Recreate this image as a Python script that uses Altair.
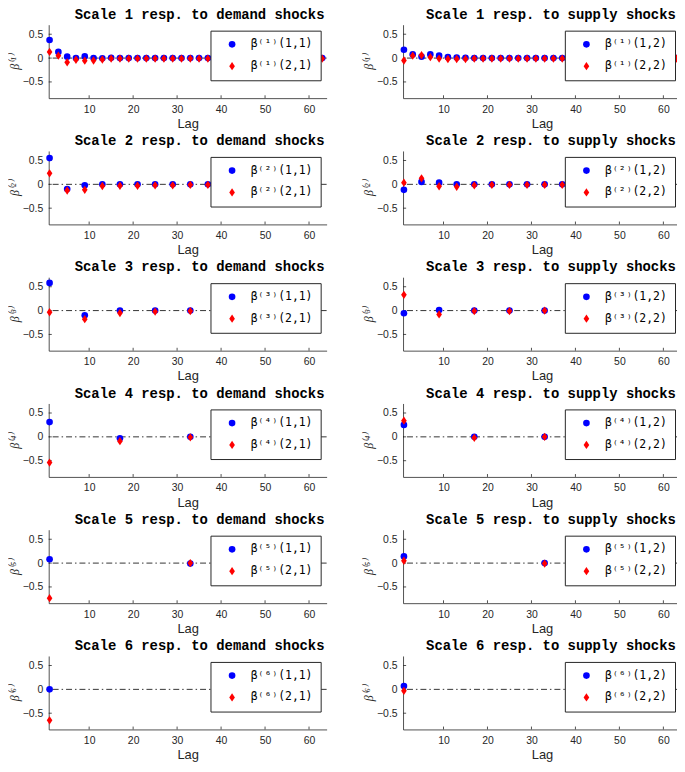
import altair as alt
import pandas as pd

# ---------------- data ----------------
X_DOMAIN = [0.8, 64]
Y_DOMAIN = [-0.84, 0.7]
X_TICKS = [10, 20, 30, 40, 50, 60]
Y_TICKS = [-0.5, 0, 0.5]
ZERO = [0.0]

LAGS_S1 = [1, 3, 5, 7, 9, 11, 13, 15, 17, 19, 21, 23, 25, 27, 29, 31, 33, 35, 37, 39, 63]
LAGS_S2 = [1, 5, 9, 13, 17, 21, 25, 29, 33, 37]
LAGS_S3 = [1, 9, 17, 25, 33]
LAGS_S4 = [1, 17, 33]
LAGS_S5 = [1, 33]
LAGS_S6 = [1]

# demand shocks: beta(1,1) blue, beta(2,1) red
D11_S1 = [0.38, 0.13, 0.03, 0.0, 0.035, 0.0, -0.005, 0.005, 0.0, 0.0, 0.0, 0.0, 0.0, 0.0, 0.0, 0.0, 0.0, 0.0, 0.0, 0.0, 0.0]
D21_S1 = [0.13, 0.05, -0.09, -0.035, -0.055, -0.05, -0.03, -0.01, -0.01, -0.01, -0.01, -0.01, -0.01, -0.01, -0.01, -0.01, -0.01, -0.01, -0.01, -0.01, -0.01]
D11_S2 = [0.55, -0.10, -0.02, 0.0, 0.0, 0.0, 0.0, 0.0, 0.0, 0.0]
D21_S2 = [0.23, -0.13, -0.115, -0.035, -0.03, -0.03, -0.02, -0.02, -0.01, -0.01]
D11_S3 = [0.58, -0.10, 0.0, 0.0, 0.0]
D21_S3 = [-0.035, -0.18, -0.05, -0.02, -0.01]
D11_S4 = [0.31, -0.03, 0.0]
D21_S4 = [-0.54, -0.09, -0.01]
D11_S5 = [0.08, -0.01]
D21_S5 = [-0.735, 0.0]
D11_S6 = [0.0]
D21_S6 = [-0.65]

# supply shocks: beta(1,2) blue, beta(2,2) red
S12_S1 = [0.175, 0.077, 0.03, 0.077, 0.05, 0.02, 0.01, 0.005, 0.0, 0.0, 0.0, 0.0, 0.0, 0.0, 0.0, 0.0, 0.0, 0.0, 0.0, 0.0, 0.0]
S22_S1 = [-0.05, 0.05, 0.06, 0.02, -0.01, -0.02, -0.02, -0.02, -0.01, -0.01, -0.01, -0.01, -0.01, -0.01, -0.01, -0.01, -0.01, -0.01, -0.01, -0.01, -0.01]
S12_S2 = [-0.115, 0.05, 0.035, 0.0, 0.0, 0.0, 0.0, 0.0, 0.0, 0.0]
S22_S2 = [0.035, 0.125, -0.04, -0.05, -0.02, -0.01, -0.01, -0.01, -0.01, -0.01]
S12_S3 = [-0.055, 0.01, 0.0, 0.0, 0.0]
S22_S3 = [0.33, -0.08, -0.01, -0.01, 0.0]
S12_S4 = [0.25, 0.0, 0.0]
S22_S4 = [0.34, -0.02, 0.0]
S12_S5 = [0.14, 0.0]
S22_S5 = [0.05, -0.01]
S12_S6 = [0.07]
S22_S6 = [-0.03]

SUP = {1: "¹", 2: "²", 3: "³", 4: "⁴", 5: "⁵", 6: "⁶"}

PANELS = [
    (1, LAGS_S1, D11_S1, D21_S1, S12_S1, S22_S1),
    (2, LAGS_S2, D11_S2, D21_S2, S12_S2, S22_S2),
    (3, LAGS_S3, D11_S3, D21_S3, S12_S3, S22_S3),
    (4, LAGS_S4, D11_S4, D21_S4, S12_S4, S22_S4),
    (5, LAGS_S5, D11_S5, D21_S5, S12_S5, S22_S5),
    (6, LAGS_S6, D11_S6, D21_S6, S12_S6, S22_S6),
]

# ---------------- styling ----------------
W, H = 280, 74
DIAMOND = "M0,-1.25L0.85,0L0,1.25L-0.85,0Z"
AX = "#262626"
TICK_LEN_Y = 0.06   # inward tick length in y-data units
TICK_LEN_X = 0.7    # inward tick length in x-data units


def panel(scale, shock, col, lags, blue, red, dx):
    s = SUP[scale]
    lab_b = f"β⁽{s}⁾(1,{col})"
    lab_r = f"β⁽{s}⁾(2,{col})"
    n = len(lags)
    df = pd.DataFrame({
        "lag": list(lags) + list(lags),
        "beta": list(blue) + list(red),
        "series": [lab_b] * n + [lab_r] * n,
    })
    xs = alt.Scale(domain=X_DOMAIN, nice=False, zero=False)
    ys = alt.Scale(domain=Y_DOMAIN, nice=False, zero=False)
    x_axis = alt.Axis(values=X_TICKS, title="Lag", format="d", labelOverlap=False)
    y_axis = alt.Axis(values=Y_TICKS, title=f"β⁽{s}⁾", format="~g",
                      labelOverlap=False, labelBound=False, labelFlush=False)
    leg = alt.Legend(
        title=None, orient="top-right", offset=6, padding=8,
        fillColor="white", strokeColor=AX, cornerRadius=0,
        symbolSize=45, symbolOffset=8, labelOffset=13,
        labelFont="DejaVu Sans Mono", labelFontSize=11.5, labelColor="black",
        rowPadding=9, symbolStrokeWidth=0,
    )
    zero = alt.Chart(pd.DataFrame({"z": ZERO})).mark_rule(
        color="black", strokeWidth=0.8, strokeDash=[6, 3, 1.5, 3]
    ).encode(y=alt.Y("z:Q", scale=ys, axis=y_axis))
    xt_df = pd.DataFrame({"t": X_TICKS, "y0": [Y_DOMAIN[0]] * len(X_TICKS),
                          "y1": [Y_DOMAIN[0] + TICK_LEN_Y] * len(X_TICKS)})
    xt = alt.Chart(xt_df).mark_rule(color=AX, strokeWidth=0.8).encode(
        x=alt.X("t:Q", scale=xs, axis=x_axis), y=alt.Y("y0:Q", scale=ys, axis=y_axis), y2="y1:Q")
    yt_df = pd.DataFrame({"t": Y_TICKS, "x0": [X_DOMAIN[0]] * len(Y_TICKS),
                          "x1": [X_DOMAIN[0] + TICK_LEN_X] * len(Y_TICKS)})
    yt = alt.Chart(yt_df).mark_rule(color=AX, strokeWidth=0.8).encode(
        y=alt.Y("t:Q", scale=ys, axis=y_axis), x=alt.X("x0:Q", scale=xs, axis=x_axis), x2="x1:Q")
    pts = alt.Chart(df).mark_point(filled=True, size=45, opacity=1, strokeWidth=0).encode(
        x=alt.X("lag:Q", scale=xs, axis=x_axis),
        y=alt.Y("beta:Q", scale=ys, axis=y_axis),
        color=alt.Color("series:N", scale=alt.Scale(domain=[lab_b, lab_r], range=["#0000ff", "#ff0000"]), legend=leg),
        shape=alt.Shape("series:N", scale=alt.Scale(domain=[lab_b, lab_r], range=["circle", DIAMOND]), legend=leg),
    )
    title = alt.TitleParams(
        f"Scale {scale} resp. to {shock} shocks",
        font="Liberation Mono", fontSize=14, fontWeight="bold", color="black",
        anchor="middle", dx=dx, offset=3,
    )
    return alt.layer(zero, xt, yt, pts).properties(width=W, height=H, title=title)


charts = []
for scale, lags, d11, d21, s12, s22 in PANELS:
    charts.append(panel(scale, "demand", 1, lags, d11, d21, 12))
    charts.append(panel(scale, "supply", 2, lags, s12, s22, 9))

chart = alt.concat(*charts, columns=2, spacing={"row": 53.2, "column": 77}, bounds="flush").resolve_scale(
    color="independent", shape="independent"
).resolve_legend(color="independent", shape="independent").properties(
    padding={"left": 0, "top": -3, "right": -5, "bottom": -3}
).configure_view(stroke=None).configure_axis(
    grid=False, domainColor=AX, domainWidth=0.8, tickSize=0, labelOverlap=False,
    labelFont="Liberation Sans", labelFontSize=10.5, labelColor=AX, labelPadding=6,
    titleFont="Liberation Sans", titleFontSize=13, titleFontWeight="normal", titleColor=AX,
).configure_axisX(titlePadding=3).configure_axisY(
    titleFont="Liberation Serif", titleFontStyle="italic", titleFontSize=12, titlePadding=1,
)

chart.save("out.html", embed_options={"renderer": "svg", "actions": False})
